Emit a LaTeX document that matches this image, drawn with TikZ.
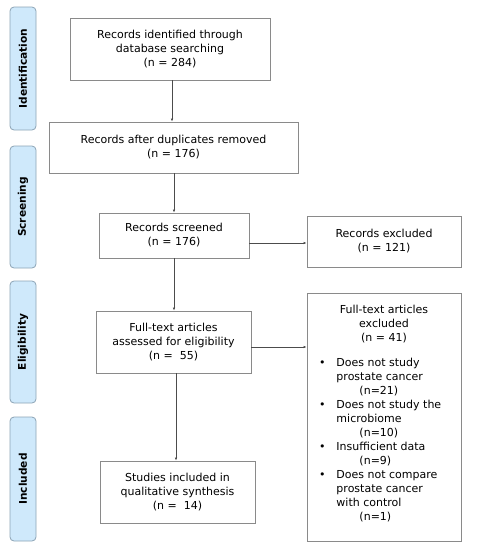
\documentclass[tikz,border=0pt]{standalone}
\usepackage{fontspec}
\setmainfont{DejaVu Sans}
\usetikzlibrary{arrows.meta}
\definecolor{phasefill}{HTML}{CFE9FB}
\definecolor{phaseline}{HTML}{8CA3B5}
\definecolor{boxline}{HTML}{8A8A8A}
\begin{document}
\begin{tikzpicture}[x=1pt,y=-1pt,
  stagebox/.style={draw=boxline, line width=0.8pt, align=center, inner sep=0pt,
    font=\fontsize{11}{14}\selectfont},
  phase/.style={draw=phaseline, fill=phasefill, rounded corners=4pt, line width=0.8pt,
    rotate=90, font=\fontsize{10.6}{13}\selectfont\bfseries, inner sep=0pt},
  flow/.style={draw=black!70, line width=0.6pt, -{Latex[length=3pt,width=2.5pt]}}]
\useasboundingbox (0,0) rectangle (485,550);
% phase labels
\node[phase, minimum width=123pt, minimum height=26pt] (ident) at (23,68.5) {Identification};
\node[phase, minimum width=122pt, minimum height=26pt] (screen) at (23,207) {Screening};
\node[phase, minimum width=122pt, minimum height=26pt] (elig) at (23,342) {Eligibility};
\node[phase, minimum width=124pt, minimum height=26pt] (incl) at (23,479) {Included};
% boxes
\node[stagebox, minimum width=200pt, minimum height=62pt] (found) at (170,49)
  {Records identified through\\database searching\\(n = 284)};
\node[stagebox, minimum width=249pt, minimum height=51pt] (dedup) at (173.5,147.5)
  {Records after duplicates removed\\(n = 176)};
\node[stagebox, minimum width=150pt, minimum height=45pt] (screened) at (174,235.5)
  {Records screened\\(n = 176)};
\node[stagebox, minimum width=154pt, minimum height=51pt] (excl) at (384,241.5)
  {Records excluded\\(n = 121)};
\node[stagebox, minimum width=155pt, minimum height=62pt] (fulltext) at (173.5,342)
  {Full-text articles\\assessed for eligibility\\(n =\ \ 55)};
\node[stagebox, minimum width=155pt, minimum height=62pt] (studies) at (177.5,492)
  {Studies included in\\qualitative synthesis\\(n =\ \ 14)};
\node[stagebox, minimum width=154pt, minimum height=248pt] (ftexcl) at (384,417)
  {\parbox[c][224pt][t]{150pt}{\centering Full-text articles\\excluded\\(n = 41)\\[13pt]
   \raggedright
   \begin{tabular}{@{\hspace{10pt}}l@{\hspace{11pt}}l@{}}
   \textbullet & Does not study\\
               & prostate cancer\\
               & \hspace{23pt}(n=21)\\
   \textbullet & Does not study the\\
               & microbiome\\
               & \hspace{23pt}(n=10)\\
   \textbullet & Insufficient data\\
               & \hspace{23pt}(n=9)\\
   \textbullet & Does not compare\\
               & prostate cancer\\
               & with control\\
               & \hspace{23pt}(n=1)
   \end{tabular}}};
% arrows
\draw[flow] (found.south -| 172,0) -- (dedup.north -| 172,0);
\draw[flow] (dedup.south -| 174,0) -- (screened.north -| 174,0);
\draw[flow] (screened.east |- 0,243) -- (excl.west |- 0,243);
\draw[flow] (screened.south -| 174,0) -- (fulltext.north -| 174,0);
\draw[flow] (fulltext.east |- 0,347) -- (ftexcl.west |- 0,347);
\draw[flow] (fulltext.south -| 176,0) -- (studies.north -| 176,0);
\end{tikzpicture}
\end{document}
